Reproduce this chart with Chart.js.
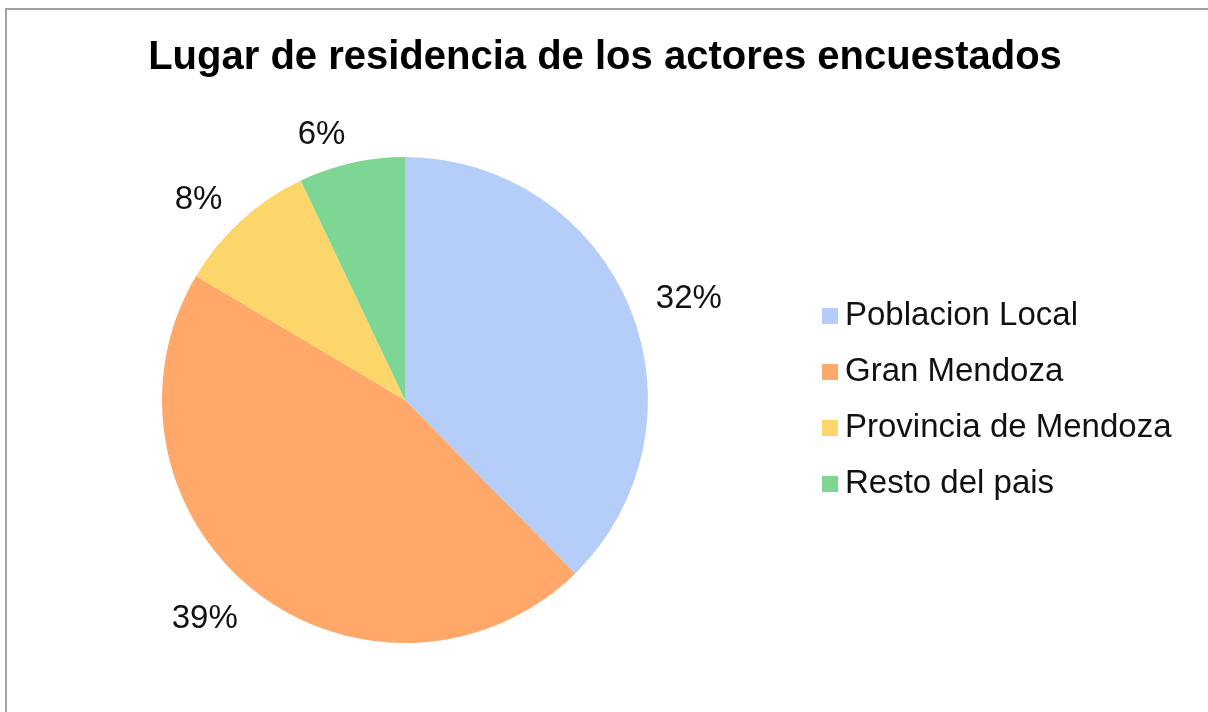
<!DOCTYPE html>
<html>
<head>
<meta charset="utf-8">
<script src="https://cdn.jsdelivr.net/npm/chart.js@4.4.1/dist/chart.umd.min.js"></script>
<style>
  html, body { margin: 0; padding: 0; background: #ffffff; }
  #wrap { position: relative; width: 1208px; height: 712px; overflow: hidden; background: #fff; }
  #frame { position: absolute; left: 5px; top: 8px; width: 1400px; height: 900px;
           border-left: 2px solid #a3a3a3; border-top: 2px solid #a3a3a3; box-sizing: border-box; }
  #c { position: absolute; left: 0; top: 0; }
</style>
</head>
<body>
<div id="wrap">
  <div id="frame"></div>
  <canvas id="c" width="1208" height="712"></canvas>
</div>
<script>
// ---- data ----
const chartTitle = "Lugar de residencia de los actores encuestados";
const categories = ["Poblacion Local", "Gran Mendoza", "Provincia de Mendoza", "Resto del pais"];
const values = [32, 39, 8, 6];
const valueLabels = ["32%", "39%", "8%", "6%"];
const colors = ["#b4cdf9", "#ffa869", "#fdd66b", "#7dd694"];

const FONT = "'Liberation Sans', Arial, sans-serif";

const titlePlugin = {
  id: 'customTitle',
  afterDraw(chart) {
    const ctx = chart.ctx;
    ctx.save();
    ctx.font = "bold 40px " + FONT;
    ctx.fillStyle = "#000";
    ctx.textAlign = "center";
    ctx.textBaseline = "alphabetic";
    ctx.fillText(chartTitle, 605, 69);
    ctx.restore();
  }
};

const labelPlugin = {
  id: 'sliceLabels',
  afterDatasetsDraw(chart) {
    const ctx = chart.ctx;
    const meta = chart.getDatasetMeta(0);
    ctx.save();
    const size = 33;
    ctx.font = size + "px " + FONT;
    ctx.fillStyle = "#111";
    ctx.textAlign = "center";
    ctx.textBaseline = "alphabetic";
    const capH = size * 0.716;
    meta.data.forEach((arc, i) => {
      const p = arc.getProps(['x', 'y', 'startAngle', 'endAngle', 'outerRadius'], true);
      const mid = (p.startAngle + p.endAngle) / 2;
      const dx = Math.cos(mid), dy = Math.sin(mid);
      const txt = valueLabels[i];
      const w = ctx.measureText(txt).width;
      const r = p.outerRadius + 20;
      const cx = p.x + r * dx + Math.sign(dx) * (w / 2) + dx * 8;
      const cy = p.y + r * dy + (capH / 2) * dy;
      ctx.fillText(txt, cx, cy + capH / 2);
    });
    ctx.restore();
  }
};

const legendPlugin = {
  id: 'customLegend',
  afterDraw(chart) {
    const ctx = chart.ctx;
    const ds = chart.data.datasets[0];
    ctx.save();
    ctx.font = "33px " + FONT;
    ctx.textAlign = "left";
    ctx.textBaseline = "alphabetic";
    const x0 = 822, base0 = 325, step = 56;
    chart.data.labels.forEach((lab, i) => {
      const b = base0 + i * step;
      ctx.fillStyle = ds.backgroundColor[i];
      ctx.fillRect(x0, b - 17, 16, 16);
      ctx.fillStyle = "#111";
      ctx.fillText(lab, x0 + 23, b);
    });
    ctx.restore();
  }
};

new Chart(document.getElementById('c'), {
  type: 'pie',
  data: {
    labels: categories,
    datasets: [{
      data: values,
      backgroundColor: colors,
      borderWidth: 0,
      hoverOffset: 0,
      offset: 0
    }]
  },
  options: {
    responsive: false,
    animation: false,
    devicePixelRatio: 1,
    layout: { padding: { left: 162, right: 560, top: 157, bottom: 69 } },
    plugins: {
      legend: { display: false },
      title: { display: false },
      tooltip: { enabled: false }
    },
    events: []
  },
  plugins: [labelPlugin, legendPlugin, titlePlugin]
});
</script>
</body>
</html>
